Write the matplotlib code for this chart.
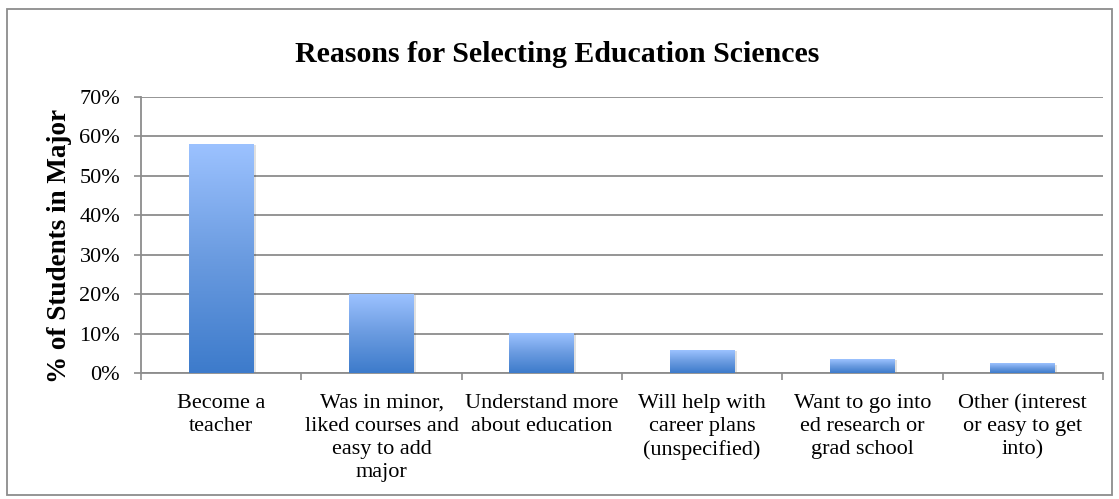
import numpy as np
import matplotlib.pyplot as plt
from matplotlib.colors import LinearSegmentedColormap
from matplotlib.patches import Rectangle

# survey results: why students chose the major
reasons = [
    "Become a\nteacher",
    "Was in minor,\nliked courses and\neasy to add\nmajor",
    "Understand more\nabout education",
    "Will help with\ncareer plans\n(unspecified)",
    "Want to go into\ned research or\ngrad school",
    "Other (interest\nor easy to get\ninto)",
]
shares = [0.58, 0.20, 0.10, 0.058, 0.035, 0.023]
y_ticks = [0.0, 0.1, 0.2, 0.3, 0.4, 0.5, 0.6, 0.7]

plt.rcParams["font.family"] = ["Liberation Serif", "DejaVu Serif"]

fig = plt.figure(figsize=(11.19, 4.99), dpi=100)
ax = fig.add_axes([141 / 1119, 1 - 373 / 499, (1103 - 141) / 1119, (373 - 97) / 499])

grid_col = "#8c8c8c"
bar_w = 0.405
grad = LinearSegmentedColormap.from_list("barfill", ["#3d7bcb", "#6a9be0", "#9cc2ff"])
ramp = np.linspace(0, 1, 256).reshape(-1, 1)

for i, v in enumerate(shares):
    x0 = i + 0.5 - bar_w / 2
    # soft drop shadow behind each bar
    ax.add_patch(Rectangle((x0 + 0.012, 0), bar_w, v - 0.002, facecolor="#000000",
                           alpha=0.12, edgecolor="none", zorder=2))
    ax.imshow(ramp, cmap=grad, origin="lower", aspect="auto",
              extent=(x0, x0 + bar_w, 0, v), zorder=3, interpolation="bilinear")

ax.set_xlim(0, len(shares))
ax.set_ylim(0, 0.7)
ax.set_yticks(y_ticks)
ax.set_yticklabels([f"{int(round(t * 100))}%" for t in y_ticks], fontsize=16)
ax.set_xticks(np.arange(len(shares) + 1))
ax.set_xticklabels([])
ax.set_xticks(np.arange(len(shares)) + 0.5, minor=True)
ax.set_xticklabels(reasons, minor=True, fontsize=16, linespacing=1.29)
ax.tick_params(axis="x", which="minor", length=0, pad=15)
ax.tick_params(axis="x", which="major", length=5, color=grid_col, width=1.2)
ax.tick_params(axis="y", length=5, color=grid_col, width=1.2, pad=10)

ax.yaxis.grid(True, color=grid_col, linewidth=1.3)
ax.set_axisbelow(True)
for side in ["top", "right"]:
    ax.spines[side].set_visible(False)
for side in ["left", "bottom"]:
    ax.spines[side].set_color(grid_col)
    ax.spines[side].set_linewidth(1.3)

ax.set_ylabel("% of Students in Major", fontsize=19.5, fontweight="bold")
ax.yaxis.set_label_coords(-0.072, 0.46)
fig.text(557 / 1119, 1 - 54 / 499, "Reasons for Selecting Education Sciences",
         ha="center", va="center", fontsize=21.5, fontweight="bold")

# outer chart frame
fig.add_artist(Rectangle((7 / 1119, 4 / 499), 1105 / 1119, 486 / 499,
                         transform=fig.transFigure, fill=False,
                         edgecolor="#8c8c8c", linewidth=1.3))

fig.savefig("out.png", dpi=100)
